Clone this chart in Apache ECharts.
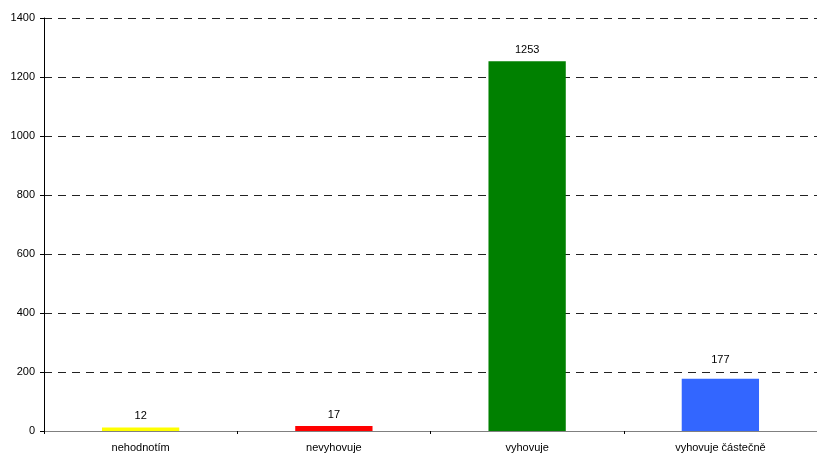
<!DOCTYPE html>
<html><head><meta charset="utf-8">
<script src="https://cdn.jsdelivr.net/npm/echarts@6/dist/echarts.min.js"></script>
<style>html,body{margin:0;padding:0;background:#fff}#c{width:817px;height:454px}</style>
</head><body><div id="c"></div>
<script>
const categories = ["nehodnotím", "nevyhovuje", "vyhovuje", "vyhovuje částečně"];
const values = [12, 17, 1253, 177];
const colors = ["#FFFF00", "#FF0000", "#008000", "#3366FF"];
const yTicks = [0, 200, 400, 600, 800, 1000, 1200, 1400];

const labelDistances = [6, 6, 6, 13];

const chart = echarts.init(document.getElementById('c'), null, {renderer: 'canvas'});
chart.setOption({
  animation: false,
  grid: {left: 44, top: 18, width: 776, height: 413, containLabel: false},
  xAxis: {
    type: 'category', data: categories,
    axisLine: {lineStyle: {color: '#808080', width: 1}},
    axisTick: {show: true, length: 3, lineStyle: {color: '#000'}},
    axisLabel: {color: '#000', fontFamily: 'Liberation Sans, Arial', fontSize: 11, margin: 11}
  },
  yAxis: {
    type: 'value', min: yTicks[0], max: yTicks[yTicks.length - 1], interval: 200,
    axisLine: {show: true, lineStyle: {color: '#000', width: 1}},
    axisTick: {show: true, length: 4, lineStyle: {color: '#000'}},
    axisLabel: {color: '#000', fontFamily: 'Liberation Sans, Arial', fontSize: 11, margin: 9,
      formatter: v => String(v)},
    splitLine: {show: true, lineStyle: {color: '#222', type: [8, 6], width: 1}}
  },
  series: [{
    type: 'bar', barWidth: '40%',
    data: values.map((v, i) => ({value: v, itemStyle: {color: colors[i]}, label: {distance: labelDistances[i]}})),
    label: {show: true, position: 'top', distance: 6, color: '#000', fontFamily: 'Liberation Sans, Arial', fontSize: 11}
  }]
});
</script></body></html>
